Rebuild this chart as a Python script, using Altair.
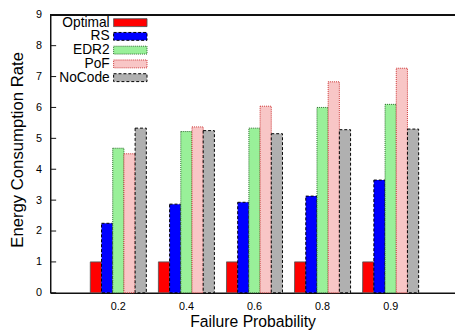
import altair as alt
import pandas as pd

probs = ["0.2", "0.4", "0.6", "0.8", "0.9"]
series = ["Optimal", "RS", "EDR2", "PoF", "NoCode"]
optimal = [1.0, 1.0, 1.0, 1.0, 1.0]
rs = [2.25, 2.87, 2.93, 3.13, 3.65]
edr2 = [4.68, 5.22, 5.33, 6.0, 6.1]
pof = [4.5, 5.37, 6.04, 6.83, 7.27]
nocode = [5.33, 5.25, 5.15, 5.28, 5.3]
y_ticks = [0, 1, 2, 3, 4, 5, 6, 7, 8, 9]

values = {"Optimal": optimal, "RS": rs, "EDR2": edr2, "PoF": pof, "NoCode": nocode}
rows = []
for s in series:
    for p, v in zip(probs, values[s]):
        rows.append({"prob": p, "series": s, "value": v})
df = pd.DataFrame(rows)

fills = ["#ff0000", "#0000ff", "#99f099", "#f8c6c6", "#b0b0b0"]
strokes = ["#555555", "#000000", "#2a6a2a", "#cc3333", "#000000"]
dashes = [[1, 0], [3, 2], [1, 1], [1, 1], [3, 2]]

FONT = "Liberation Sans"
W, H = 412, 283

yscale = alt.Scale(domain=[0, 9], nice=False)
yaxis = alt.Axis(title="Energy Consumption Rate", values=y_ticks, ticks=False, tickSize=0,
                 grid=False, labelPadding=9, labelFontSize=11, labelFont=FONT,
                 labelOverlap=False, labelFlush=False,
                 labelColor="black", domainColor="#111111", domainWidth=1.5,
                 titleFont=FONT, titleFontSize=17, titleFontWeight="normal",
                 titleColor="black", titleX=-28, titleY=137, titleAngle=270,
                 titleBaseline="alphabetic", titleAlign="center")

bars = alt.Chart(df).mark_bar(strokeWidth=1, opacity=1).encode(
    x=alt.X("prob:N", sort=probs,
            scale=alt.Scale(paddingInner=0, paddingOuter=0.4725, align=0.529),
            axis=alt.Axis(title="Failure Probability", labelAngle=0, ticks=False, tickSize=0,
                          labelPadding=7.5, labelFontSize=11, labelFont=FONT, labelColor="black",
                          domainColor="#111111", domainWidth=1.5,
                          titleFont=FONT, titleFontSize=16, titleFontWeight="normal",
                          titleColor="black", titleX=206, titleY=34, titleBaseline="alphabetic")),
    xOffset=alt.XOffset("series:N", sort=series,
                        scale=alt.Scale(paddingInner=0, paddingOuter=0.54)),
    y=alt.Y("value:Q", scale=yscale, axis=yaxis),
    fill=alt.Fill("series:N", sort=series, scale=alt.Scale(domain=series, range=fills),
                  legend=alt.Legend(title=None)),
    stroke=alt.Stroke("series:N", sort=series, scale=alt.Scale(domain=series, range=strokes),
                      legend=alt.Legend(title=None)),
    strokeDash=alt.StrokeDash("series:N", sort=series, scale=alt.Scale(domain=series, range=dashes),
                              legend=alt.Legend(title=None)),
)

tick_df = pd.DataFrame({"t": y_ticks})
ticks = alt.Chart(tick_df).mark_rule(color="#111111", strokeWidth=1).encode(
    y=alt.Y("t:Q", scale=yscale, axis=yaxis),
    x=alt.value(0),
    x2=alt.value(6),
)

top = alt.Chart(tick_df).mark_rule(color="#111111", strokeWidth=1.5).encode(
    y=alt.value(0), x=alt.value(0), x2=alt.value(W)
)

chart = alt.layer(bars, ticks, top).properties(
    width=W, height=H,
    autosize=alt.AutoSizeParams(type="none"),
    padding={"left": 43, "top": 4, "right": 0, "bottom": 37},
).configure_view(stroke=None).configure_legend(
    orient="none", legendX=74.5, legendY=1, padding=0,
    symbolType="M-4.25,-1H4.25V1H-4.25Z", symbolSize=64, symbolStrokeWidth=1,
    labelAlign="right", labelOffset={"expr": "-28"}, labelFont=FONT, labelFontSize=14,
    labelColor="black", rowPadding=0, symbolOpacity=1,
)

chart.save("out.html", embed_options={"renderer": "svg", "actions": False})
